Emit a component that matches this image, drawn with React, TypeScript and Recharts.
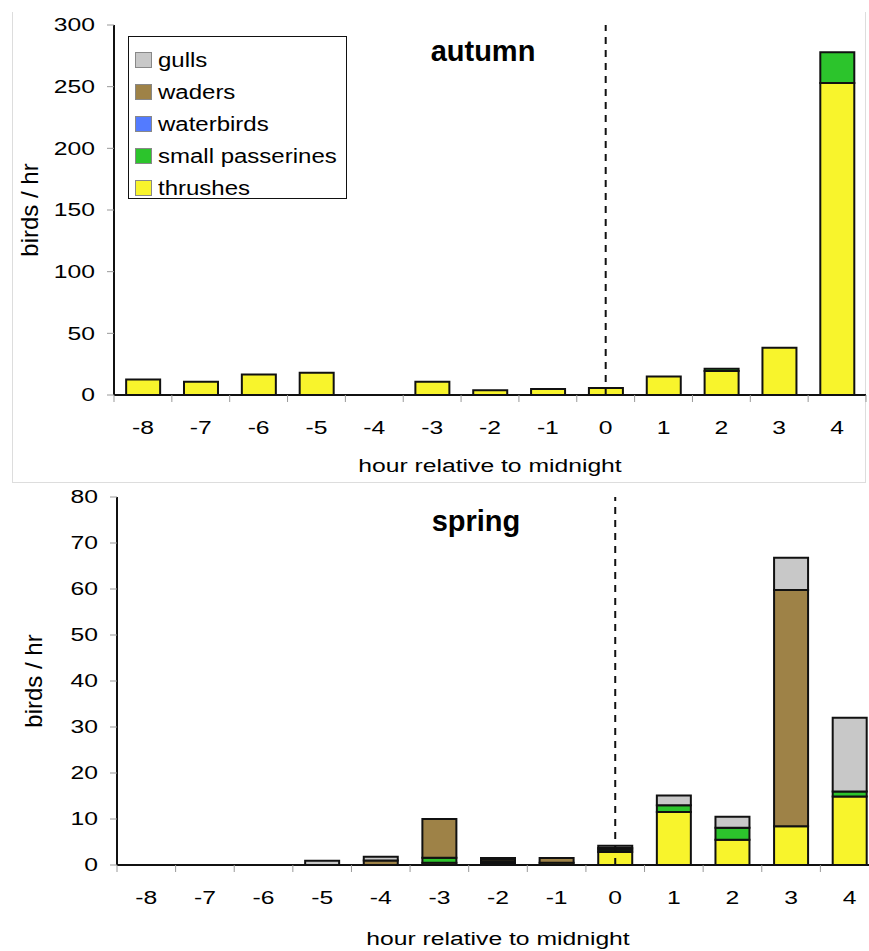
import React from 'react';
import { BarChart, Bar, XAxis, YAxis, ReferenceLine, Legend } from 'recharts';

// hour relative to midnight
const hours = ['-8', '-7', '-6', '-5', '-4', '-3', '-2', '-1', '0', '1', '2', '3', '4'];

// autumn, birds / hr
const autumnThrushes = [12.5, 10.8, 16.7, 18, 0, 10.8, 3.8, 4.9, 5.7, 15.1, 19.5, 38.3, 253];
const autumnSmallPasserines = [0, 0, 0, 0, 0, 0, 0, 0, 0, 0, 1.8, 0, 25];
const autumnWaterbirds = [0, 0, 0, 0, 0, 0, 0, 0, 0, 0, 0, 0, 0];
const autumnWaders = [0, 0, 0, 0, 0, 0, 0, 0, 0, 0, 0, 0, 0];
const autumnGulls = [0, 0, 0, 0, 0, 0, 0, 0, 0, 0, 0, 0, 0];

// spring, birds / hr
const springThrushes = [0, 0, 0, 0, 0, 0.5, 0.2, 0.5, 2.8, 11.5, 5.5, 8.4, 14.9];
const springSmallPasserines = [0, 0, 0, 0, 0, 1.1, 0.3, 0, 0.5, 1.5, 2.6, 0, 1.1];
const springWaterbirds = [0, 0, 0, 0, 0, 0, 0.2, 0, 0, 0, 0, 0, 0];
const springWaders = [0, 0, 0, 0, 1.0, 8.4, 0.5, 1.0, 0.4, 0, 0, 51.4, 0];
const springGulls = [0, 0, 0, 0.9, 0.8, 0, 0.3, 0, 0.5, 2.1, 2.4, 7.0, 16.0];

const autumnTicks = [0, 50, 100, 150, 200, 250, 300];
const springTicks = [0, 10, 20, 30, 40, 50, 60, 70, 80];

// stacking order, bottom to top
const groups = [
  { key: 'thrushes', color: '#f8f42c' },
  { key: 'small passerines', color: '#2cc42c' },
  { key: 'waterbirds', color: '#537bff' },
  { key: 'waders', color: '#9e8247' },
  { key: 'gulls', color: '#c8c8c8' },
];

const FONT = '"Liberation Sans", Arial, Helvetica, sans-serif';
const SX = 1.3;
const INK = '#000';

function buildRows(t: number[], sp: number[], wb: number[], wd: number[], g: number[]) {
  return hours.map((hour, i) => ({
    hour,
    thrushes: t[i],
    'small passerines': sp[i],
    waterbirds: wb[i],
    waders: wd[i],
    gulls: g[i],
  }));
}

const autumnData = buildRows(autumnThrushes, autumnSmallPasserines, autumnWaterbirds, autumnWaders, autumnGulls);
const springData = buildRows(springThrushes, springSmallPasserines, springWaterbirds, springWaders, springGulls);

function YTick(props: any) {
  const { x, y, payload } = props;
  return (
    <g transform={`translate(${x},${y})`}>
      <text transform={`scale(${SX},1)`} textAnchor="end" dominantBaseline="central" fontSize={19} fill={INK} fontFamily={FONT}>
        {payload.value}
      </text>
    </g>
  );
}

function XTick(props: any) {
  const { x, y, payload, index, band } = props;
  const half = band / 2;
  return (
    <g>
      <line x1={x - half} x2={x - half} y1={y} y2={y + 7} stroke="#999" strokeWidth={1} />
      {index === hours.length - 1 && <line x1={x + half} x2={x + half} y1={y} y2={y + 7} stroke="#999" strokeWidth={1} />}
      <g transform={`translate(${x},${y + 33})`}>
        <text transform={`scale(${SX},1)`} textAnchor="middle" dominantBaseline="central" fontSize={19} fill={INK} fontFamily={FONT}>
          {payload.value}
        </text>
      </g>
    </g>
  );
}

function LegendBox() {
  const items = [...groups].reverse();
  return (
    <div
      style={{
        width: 219,
        height: 163,
        border: '1.5px solid #111',
        background: '#fff',
        boxSizing: 'border-box',
        padding: '7px 0 0 6px',
        fontFamily: FONT,
      }}
    >
      {items.map((g) => (
        <div key={g.key} style={{ display: 'flex', alignItems: 'center', height: 32 }}>
          <span style={{ width: 17, height: 16, background: g.color, border: '1px solid #888', boxSizing: 'border-box', marginRight: 6 }} />
          <span style={{ fontSize: 20, color: INK, transform: 'scaleX(1.2)', transformOrigin: 'left center', whiteSpace: 'nowrap' }}>
            {g.key}
          </span>
        </div>
      ))}
    </div>
  );
}

interface PanelProps {
  data: any[];
  ticks: number[];
  width: number;
  height: number;
  margin: { top: number; right: number; bottom: number; left: number };
  title: string;
  titleX: number;
  titleY: number;
  yLabelX: number;
  xLabelY: number;
  legend?: boolean;
}

function Panel({ data, ticks, width, height, margin, title, titleX, titleY, yLabelX, xLabelY, legend }: PanelProps) {
  const yAxisWidth = 60;
  const plotWidth = width - margin.left - margin.right - yAxisWidth;
  const band = plotWidth / hours.length;

  // y label plus the panel title, placed from the y axis box
  const yLabelContent = (p: any) => {
    const vb = p.viewBox;
    const cx = vb.x + yLabelX;
    const cy = vb.y + vb.height / 2;
    const plotLeft = vb.x + vb.width;
    return (
      <g>
        <text x={cx} y={cy} transform={`rotate(-90,${cx},${cy})`} textAnchor="middle" dominantBaseline="central" fontSize={24} fill={INK} fontFamily={FONT}>
          birds / hr
        </text>
        <text x={plotLeft + titleX} y={vb.y + titleY} textAnchor="middle" fontSize={29} fontWeight="bold" fill={INK} fontFamily={FONT}>
          {title}
        </text>
      </g>
    );
  };
  const xLabelContent = (p: any) => {
    const vb = p.viewBox;
    const cx = vb.x + vb.width / 2;
    const cy = vb.y + xLabelY;
    return (
      <g transform={`translate(${cx},${cy})`}>
        <text transform="scale(1.3,1)" textAnchor="middle" dominantBaseline="central" fontSize={19} fill={INK} fontFamily={FONT}>
          hour relative to midnight
        </text>
      </g>
    );
  };

  return (
    <BarChart width={width} height={height} data={data} margin={margin} barCategoryGap="21%">
      <XAxis
        dataKey="hour"
        interval={0}
        height={30}
        tickSize={0}
        tickMargin={0}
        tickLine={false}
        axisLine={{ stroke: '#111', strokeWidth: 2 }}
        tick={(p: any) => <XTick {...p} band={band} />}
        label={{ content: xLabelContent }}
      />
      <XAxis
        xAxisId="top"
        dataKey="hour"
        orientation="top"
        height={0}
        tick={false}
        tickLine={false}
        axisLine={{ stroke: '#111', strokeWidth: 2 }}
      />
      <YAxis
        width={yAxisWidth}
        domain={[0, ticks[ticks.length - 1]]}
        ticks={ticks}
        interval={0}
        tickSize={7}
        tickMargin={12}
        tickLine={{ stroke: '#999', strokeWidth: 1 }}
        axisLine={{ stroke: '#111', strokeWidth: 2 }}
        tick={<YTick />}
        label={{ content: yLabelContent }}
      />
      <YAxis
        yAxisId="right"
        orientation="right"
        width={0}
        tick={false}
        tickLine={false}
        axisLine={{ stroke: '#111', strokeWidth: 2 }}
      />
      {groups.map((g) => (
        <Bar
          key={g.key}
          dataKey={g.key}
          name={g.key}
          stackId="birds"
          fill={g.color}
          stroke="#111"
          strokeWidth={2}
          isAnimationActive={false}
        />
      ))}
      <ReferenceLine x="0" stroke="#111" strokeWidth={2} strokeDasharray="7 6" />
      {legend && (
        <Legend
          layout="vertical"
          align="center"
          verticalAlign="middle"
          wrapperStyle={{ top: 36, left: 128, width: 219, height: 163 }}
          content={<LegendBox />}
        />
      )}
    </BarChart>
  );
}

export default function App() {
  return (
    <div style={{ position: 'absolute', left: 0, top: 0, width: 869, height: 951, overflow: 'hidden', background: '#fff' }}>
      <div
        style={{
          position: 'absolute',
          left: 12,
          top: 12,
          width: 854,
          height: 471,
          borderLeft: '1px solid #ddd',
          borderRight: '1px solid #ddd',
          borderBottom: '1px solid #ddd',
          boxSizing: 'border-box',
        }}
      />
      <div style={{ position: 'absolute', left: 0, top: 0 }}>
        <Panel
          data={autumnData}
          ticks={autumnTicks}
          width={869}
          height={490}
          margin={{ top: 25, right: 3, bottom: 65, left: 54 }}
          title="autumn"
          titleX={369}
          titleY={36}
          yLabelX={-25}
          xLabelY={71}
          legend
        />
      </div>
      <div style={{ position: 'absolute', left: 0, top: 470 }}>
        <Panel
          data={springData}
          ticks={springTicks}
          width={890}
          height={481}
          margin={{ top: 27, right: 11, bottom: 56, left: 57 }}
          title="spring"
          titleX={359}
          titleY={34}
          yLabelX={-24}
          xLabelY={74}
        />
      </div>
    </div>
  );
}
